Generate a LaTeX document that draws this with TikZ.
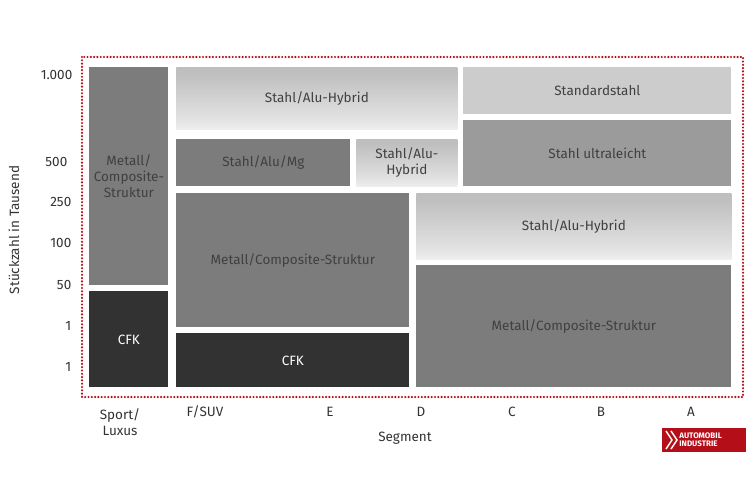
\documentclass[tikz,border=0pt]{standalone}
\usepackage{fontspec}
\setmainfont{Fira Sans}
\definecolor{midgray}{RGB}{124,124,124}
\definecolor{darkbox}{RGB}{50,50,50}
\definecolor{lightbox}{RGB}{204,204,204}
\definecolor{ultragray}{RGB}{155,155,155}
\definecolor{dotred}{RGB}{180,15,25}
\pgfdeclareverticalshading{silver}{100bp}{color(0bp)=(black!42); color(10bp)=(black!40); color(22bp)=(black!5); color(35bp)=(black!12); color(70bp)=(black!25); color(100bp)=(black!27)}
\tikzset{every picture/.style={line width=0.75pt}}
\tikzset{
  box/.style={anchor=north west, inner sep=0pt, font=\fontsize{13.5}{16}\selectfont, align=center},
  graybox/.style={box, fill=midgray, text=black!75},
  darkbox/.style={box, fill=darkbox, text=white},
  silverbox/.style={box, shading=silver, text=black!75},
  axislabel/.style={font=\fontsize{13.5}{16}\selectfont, text=black!80}
}
\begin{document}
\begin{tikzpicture}[x=1pt,y=-1pt]
        \useasboundingbox (0,0) rectangle (750,500);
        % boxes
        \node (mcleft) [graybox, minimum width=79, minimum height=218] at (89,67) {Metall/\\Composite-\\Struktur};
        \node (cfkleft) [darkbox, minimum width=79, minimum height=96] at (89,291) {CFK};
        \node (hybtop) [silverbox, minimum width=281, minimum height=62] at (176,67) {Stahl/Alu-Hybrid};
        \node (standard) [box, fill=lightbox, text=black!75, minimum width=268, minimum height=47] at (463,67) {Standardstahl};
        \node (alumg) [graybox, minimum width=174, minimum height=47] at (176,139) {Stahl/Alu/Mg};
        \node (hybsmall) [silverbox, minimum width=101, minimum height=47] at (356,139) {Stahl/Alu-\\Hybrid};
        \node (ultra) [box, fill=ultragray, text=black!75, minimum width=268, minimum height=66] at (463,120) {Stahl ultraleicht};
        \node (mcmid) [graybox, minimum width=233, minimum height=134] at (176,193) {Metall/Composite-Struktur};
        \node (cfkmid) [darkbox, minimum width=233, minimum height=54] at (176,333) {CFK};
        \node (hybright) [silverbox, minimum width=315, minimum height=66] at (416,193) {Stahl/Alu-Hybrid};
        \node (mcright) [graybox, minimum width=315, minimum height=122] at (416,265) {Metall/Composite-Struktur};
        \draw [dotred, line width=2.4pt, dash pattern={on 0pt off 3.3pt}, line cap=round] (82,57) rectangle (743,397);
        % y axis
        \node (t1000) [axislabel, anchor=east] at (76,75) {1.000};
        \node (t500) [axislabel, anchor=east] at (71,162) {500};
        \node (t250) [axislabel, anchor=east] at (75,202) {250};
        \node (t100) [axislabel, anchor=east] at (75,243) {100};
        \node (t50) [axislabel, anchor=east] at (75,285) {50};
        \node (t1a) [axislabel, anchor=east] at (75,326) {1};
        \node (t1b) [axislabel, anchor=east] at (75,367) {1};
        \node (ytitle) [axislabel, rotate=90] at (14,230) {Stückzahl in Tausend};
        % x axis
        \node (sport) [axislabel, align=center] at (120,422) {Sport/\\Luxus};
        \node (fsuv) [axislabel] at (205,412) {F/SUV};
        \node (segE) [axislabel] at (330,412) {E};
        \node (segD) [axislabel] at (421,412) {D};
        \node (segC) [axislabel] at (512,412) {C};
        \node (segB) [axislabel] at (601,412) {B};
        \node (segA) [axislabel] at (691,412) {A};
        \node (xtitle) [axislabel] at (405,438) {Segment};
        % logo
        \fill [dotred] (662,428) rectangle (746,452);
        \draw [white, line width=1.5pt] (666,431) -- (672,440) -- (666,449) (671,431) -- (677,440) -- (671,449);
        \node (logo) [text=white, font=\fontsize{8}{8}\selectfont\bfseries, align=left, inner sep=0pt, anchor=west] at (679,440) {AUTOMOBIL\\INDUSTRIE};
\end{tikzpicture}
\end{document}
